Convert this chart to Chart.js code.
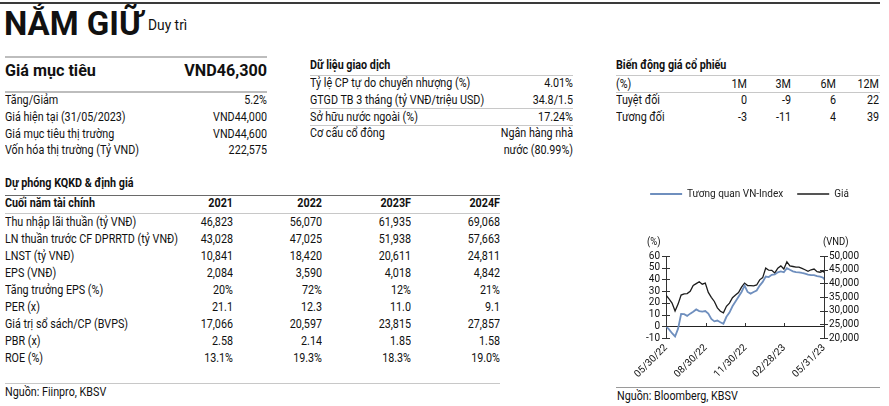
<!DOCTYPE html>
<html lang="vi">
<head>
<meta charset="utf-8">
<script src="https://cdn.jsdelivr.net/npm/chart.js@4.4.1/dist/chart.umd.min.js"></script>
<style>
  html, body { margin:0; padding:0; background:#fff; }
  #trang { position:relative; width:889px; height:406px; overflow:hidden; font-family:"Roboto",sans-serif; color:#111; font-size:12.5px; }
  .chu { position:absolute; line-height:18px; white-space:nowrap; }
  .duong { position:absolute; }
  #bieuDo { position:absolute; left:610px; top:168px; }
</style>
</head>
<body>
<div id="trang">
  <canvas id="bieuDo" width="279" height="212"></canvas>
</div>
<script>
(function(){
'use strict';

// ---- so lieu bang ----
var CHI_TIEU_CHINH = ['Tăng/Giảm','Giá hiện tại (31/05/2023)','Giá mục tiêu thị trường','Vốn hóa thị trường (Tỷ VND)'];
var GIA_TRI_CHINH = ['5.2%','VND44,000','VND44,600','222,575'];

var GD_NHAN = ['Tỷ lệ CP tự do chuyển nhượng (%)','GTGD TB 3 tháng (tỷ VNĐ/triệu USD)','Sở hữu nước ngoài (%)','Cơ cấu cổ đông'];
var GD_GIA_TRI = ['4.01%','34.8/1.5','17.24%','Ngân hàng nhà'];

var BD_KY = ['1M','3M','6M','12M'];
var BD_TUYET_DOI = [0,-9,6,22];
var BD_TUONG_DOI = [-3,-11,4,39];

var NAM = ['2021','2022','2023F','2024F'];
var DP_CHI_TIEU = ['Thu nhập lãi thuần (tỷ VNĐ)','LN thuần trước CF DPRRTD (tỷ VNĐ)','LNST (tỷ VNĐ)','EPS (VNĐ)','Tăng trưởng EPS (%)','PER (x)','Giá trị sổ sách/CP (BVPS)','PBR (x)','ROE (%)'];
var DP_SO_LIEU = [
  ['46,823','56,070','61,935','69,068'],
  ['43,028','47,025','51,938','57,663'],
  ['10,841','18,420','20,611','24,811'],
  ['2,084','3,590','4,018','4,842'],
  ['20%','72%','12%','21%'],
  ['21.1','12.3','11.0','9.1'],
  ['17,066','20,597','23,815','27,857'],
  ['2.58','2.14','1.85','1.58'],
  ['13.1%','19.3%','18.3%','19.0%']
];

// ---- so lieu bieu do ----
var NGAY = ['2022-05-30','2022-06-06','2022-06-13','2022-06-20','2022-06-27','2022-07-04','2022-07-11','2022-07-18','2022-07-25',
  '2022-08-01','2022-08-08','2022-08-15','2022-08-22','2022-08-29','2022-09-05','2022-09-12','2022-09-19','2022-09-26',
  '2022-10-03','2022-10-10','2022-10-17','2022-10-24','2022-10-31','2022-11-07','2022-11-14','2022-11-21','2022-11-28',
  '2022-12-05','2022-12-12','2022-12-19','2022-12-26','2023-01-02','2023-01-09','2023-01-16','2023-01-23','2023-01-30',
  '2023-02-06','2023-02-13','2023-02-20','2023-02-27','2023-03-06','2023-03-13','2023-03-20','2023-03-27','2023-04-03',
  '2023-04-10','2023-04-17','2023-04-24','2023-05-01','2023-05-08','2023-05-15','2023-05-22','2023-05-29','2023-05-31'];
var TUONG_QUAN_VNINDEX = [0,-2.7,-5.9,-8.7,-2,10.5,10.3,8.9,10.8,
  12.5,14.4,13,12.5,13,10.8,6.2,4.2,4.9,
  3.5,2.2,8.1,11.7,17.1,21.1,25.2,29.3,34.7,
  29.3,27.9,29.3,30.6,34.7,37.9,42.5,42,43.9,
  44.2,46.1,46.9,46.1,49.6,48.2,46.9,46.3,46.1,
  45.5,45,44.2,43.6,43.6,42.8,42.3,41.5,40];
var GIA = [35700,34300,32800,29900,32400,35700,36150,36250,37100,
  39200,39900,40600,39700,40100,36700,34900,33360,31020,
  29800,29200,31610,32770,34750,35700,36600,38590,40090,
  39180,39180,39050,39400,41280,42080,45570,44800,44770,
  43820,45570,46370,45220,47900,46370,46160,45920,45920,
  45460,44970,44420,44970,45220,44280,44070,44420,44000];
var MOC_NGAY = ['2022-05-30','2022-08-30','2022-11-30','2023-02-28','2023-05-31'];
var NHAN_MOC = ['05/30/22','08/30/22','11/30/22','02/28/23','05/31/23'];

var trang = document.getElementById('trang');

function chu(x, y, s, o) {
  o = o || {};
  var d = document.createElement('div');
  d.className = 'chu';
  d.textContent = s;
  d.style.top = (y - 9) + 'px';
  var co = o.co === undefined ? 0.86 : o.co;
  if (o.phai) {
    d.style.left = (x - 300) + 'px'; d.style.width = '300px'; d.style.textAlign = 'right';
    d.style.transformOrigin = 'right center';
  } else {
    d.style.left = x + 'px';
    d.style.transformOrigin = 'left center';
  }
  d.style.transform = 'scaleX(' + co + ')';
  if (o.size) d.style.fontSize = o.size + 'px';
  if (o.dam) d.style.fontWeight = o.dam;
  trang.appendChild(d);
  return d;
}
function duong(x1, x2, y, mau, day) {
  var d = document.createElement('div');
  d.className = 'duong';
  d.style.left = x1 + 'px'; d.style.width = (x2 - x1) + 'px';
  d.style.top = y + 'px'; d.style.height = (day || 1) + 'px';
  d.style.background = mau;
  trang.appendChild(d);
}

// tieu de
duong(0, 880, 2, '#3a3a3a', 2);
var td = chu(4, 24, 'NẮM GIỮ', {size:33, dam:'bold', co:1});
td.style.lineHeight = '40px'; td.style.top = '4px';
chu(148, 25, 'Duy trì', {size:15, co:0.92});

// gia muc tieu
duong(5, 267, 56, '#bdbdbd', 2);
chu(5, 70, 'Giá mục tiêu', {size:17, dam:'bold', co:0.95});
chu(267, 70, 'VND46,300', {size:17, dam:'bold', phai:true, co:0.95});
duong(5, 267, 91, '#bdbdbd', 2);
CHI_TIEU_CHINH.forEach(function(n, i){
  var y = 100 + i*16.8;
  chu(5, y, n);
  chu(267, y, GIA_TRI_CHINH[i], {phai:true});
});

// du lieu giao dich
chu(310, 65, 'Dữ liệu giao dịch', {dam:'bold'});
duong(310, 573, 75, '#c8c8c8', 1);
var gdY = [83, 100, 117, 133];
GD_NHAN.forEach(function(n, i){
  chu(310, gdY[i], n);
  chu(573, gdY[i], GD_GIA_TRI[i], {phai:true});
});
duong(310, 573, 108, '#c8c8c8', 1);
duong(310, 573, 125, '#c8c8c8', 1);
chu(573, 150, 'nước (80.99%)', {phai:true});

// bien dong gia
chu(616, 65, 'Biến động giá cổ phiếu', {dam:'bold'});
duong(616, 880, 75, '#c8c8c8', 1);
var cotX = [747, 791, 836, 879];
chu(616, 84, '(%)');
BD_KY.forEach(function(k, i){ chu(cotX[i], 84, k, {phai:true}); });
duong(616, 880, 92, '#c8c8c8', 1);
chu(616, 100, 'Tuyệt đối');
chu(616, 117, 'Tương đối');
BD_TUYET_DOI.forEach(function(v, i){ chu(cotX[i], 100, String(v), {phai:true}); });
BD_TUONG_DOI.forEach(function(v, i){ chu(cotX[i], 117, String(v), {phai:true}); });

// du phong
chu(5, 183, 'Dự phóng KQKD & định giá', {dam:'bold'});
duong(5, 500, 195, '#6a6a6a', 1);
var namX = [233, 322, 411, 500];
chu(5, 203, 'Cuối năm tài chính', {dam:'bold'});
NAM.forEach(function(n, i){ chu(namX[i], 203, n, {phai:true, dam:'bold'}); });
duong(5, 500, 213, '#c8c8c8', 1);
DP_CHI_TIEU.forEach(function(n, r){
  var y = 222 + r*17;
  chu(5, y, n);
  DP_SO_LIEU[r].forEach(function(v, i){ chu(namX[i], y, v, {phai:true}); });
});
duong(5, 500, 383, '#c8c8c8', 1);
chu(5, 392, 'Nguồn: Fiinpro, KBSV');

duong(616, 880, 387, '#9a9a9a', 1);
chu(617, 396, 'Nguồn: Bloomberg, KBSV');

chu(647, 242, '(%)', {size:10.5, co:0.9});
chu(823, 242, '(VND)', {size:10.5, co:0.9});

// ---- bieu do ----
function soNgay(d) { return (Date.parse(d) - Date.parse(NGAY[0])) / 86400000; }

var vachChia = {
  id: 'vachChia',
  afterDraw: function(chart) {
    var c = chart.ctx, a = chart.chartArea;
    var sx = chart.scales.x, sy = chart.scales.y, sy1 = chart.scales.y1;
    c.save();
    c.strokeStyle = '#333';
    c.lineWidth = 1;
    c.beginPath();
    sy.ticks.forEach(function(t){
      var p = Math.round(sy.getPixelForValue(t.value)) + 0.5;
      c.moveTo(a.left - 4, p); c.lineTo(a.left + 4, p);
    });
    sy1.ticks.forEach(function(t){
      var p = Math.round(sy1.getPixelForValue(t.value)) + 0.5;
      c.moveTo(a.right - 4, p); c.lineTo(a.right + 4, p);
    });
    var y0 = Math.round(sy.getPixelForValue(0));
    sx.ticks.forEach(function(t, i){
      if (i === 0 || i === sx.ticks.length - 1) return;
      var p = Math.round(sx.getPixelForValue(t.value)) + 0.5;
      c.moveTo(p, y0); c.lineTo(p, y0 - 3);
    });
    c.stroke();
    c.restore();
  }
};

Chart.defaults.font.family = '"Roboto",sans-serif';
Chart.defaults.color = '#111';

new Chart(document.getElementById('bieuDo').getContext('2d'), {
  type: 'line',
  data: {
    datasets: [
      {
        label: 'Tương quan VN-Index',
        data: NGAY.map(function(d, i){ return {x: soNgay(d), y: TUONG_QUAN_VNINDEX[i]}; }),
        yAxisID: 'y',
        borderColor: '#6f8fbe',
        backgroundColor: '#6f8fbe',
        borderWidth: 1.8,
        pointRadius: 0,
        tension: 0
      },
      {
        label: 'Giá',
        data: NGAY.map(function(d, i){ return {x: soNgay(d), y: GIA[i]}; }),
        yAxisID: 'y1',
        borderColor: '#1c1c1c',
        backgroundColor: '#1c1c1c',
        borderWidth: 1.3,
        pointRadius: 0,
        tension: 0
      }
    ]
  },
  options: {
    responsive: false,
    animation: false,
    layout: {padding: {top: 7, left: 0, right: 0, bottom: 0}},
    scales: {
      x: {
        type: 'linear',
        min: 0,
        max: soNgay(MOC_NGAY[MOC_NGAY.length - 1]),
        afterBuildTicks: function(s){ s.ticks = MOC_NGAY.map(function(d){ return {value: soNgay(d)}; }); },
        afterFit: function(s){ s.height = 42; },
        ticks: {
          autoSkip: false, minRotation: 45, maxRotation: 45, padding: 4,
          font: {size: 10}, color: '#111',
          callback: function(v){ var i = MOC_NGAY.map(soNgay).indexOf(v); return i >= 0 ? NHAN_MOC[i] : ''; }
        },
        grid: {display: false, drawTicks: false},
        border: {display: false}
      },
      y: {
        position: 'left',
        min: -10, max: 60,
        afterFit: function(s){ s.width = 56; },
        ticks: {stepSize: 10, autoSkip: false, padding: 6, font: {size: 10}, color: '#111'},
        grid: {
          drawTicks: false,
          color: function(c){ return c.tick && c.tick.value === 0 ? '#222' : 'rgba(0,0,0,0)'; }
        },
        border: {color: '#333', width: 1}
      },
      y1: {
        position: 'right',
        min: 20000, max: 50000,
        afterFit: function(s){ s.width = 65; },
        ticks: {
          stepSize: 5000, autoSkip: false, padding: 5, font: {size: 10}, color: '#111',
          callback: function(v){ return v.toLocaleString('en-US'); }
        },
        grid: {drawOnChartArea: false, drawTicks: false},
        border: {color: '#333', width: 1}
      }
    },
    plugins: {
      legend: {
        labels: {usePointStyle: true, pointStyle: 'line', pointStyleWidth: 32, boxHeight: 10, padding: 14, font: {size: 10}, color: '#222'}
      },
      title: {display: true, text: '', weight: 500, font: {size: 10}, padding: {top: 0, bottom: 35}},
      tooltip: {enabled: false}
    }
  },
  plugins: [vachChia]
});

})();
</script>
</body>
</html>
